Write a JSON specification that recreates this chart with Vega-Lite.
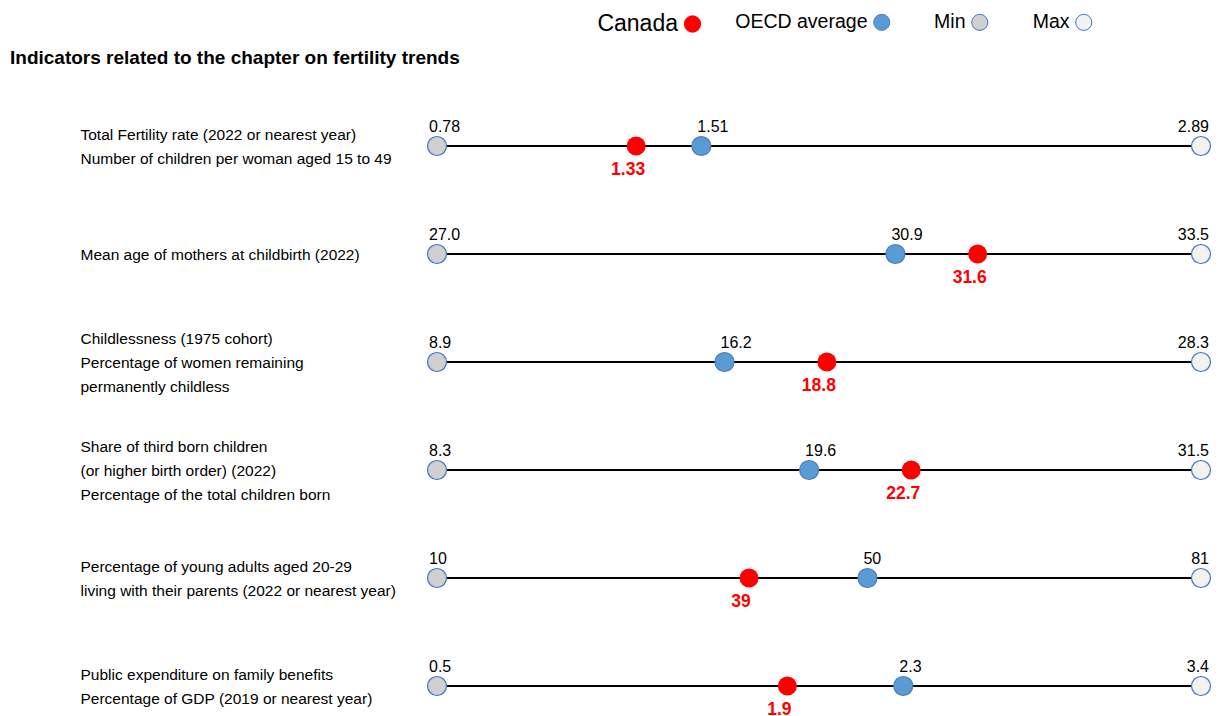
{
  "$schema": "https://vega.github.io/schema/vega-lite/v6.json",
  "padding": {"left": 10, "top": 12, "right": 4, "bottom": 0},
  "background": "white",
  "title": {
    "text": "Indicators related to the chapter on fertility trends",
    "anchor": "start",
    "frame": "bounds",
    "dx": -70,
    "offset": -55,
    "font": "Liberation Sans",
    "fontSize": 19,
    "fontWeight": "bold",
    "color": "black"
  },
  "data": {
    "values": [
      {"name": "Total Fertility rate (2022 or nearest year)|Number of children per woman aged 15 to 49", "series": "Min", "value": 0.78, "label": "0.78"},
      {"name": "Total Fertility rate (2022 or nearest year)|Number of children per woman aged 15 to 49", "series": "Max", "value": 2.89, "label": "2.89"},
      {"name": "Total Fertility rate (2022 or nearest year)|Number of children per woman aged 15 to 49", "series": "OECD average", "value": 1.51, "label": "1.51"},
      {"name": "Total Fertility rate (2022 or nearest year)|Number of children per woman aged 15 to 49", "series": "Canada", "value": 1.33, "label": "1.33"},
      {"name": "Mean age of mothers at childbirth (2022)", "series": "Min", "value": 27.0, "label": "27.0"},
      {"name": "Mean age of mothers at childbirth (2022)", "series": "Max", "value": 33.5, "label": "33.5"},
      {"name": "Mean age of mothers at childbirth (2022)", "series": "OECD average", "value": 30.9, "label": "30.9"},
      {"name": "Mean age of mothers at childbirth (2022)", "series": "Canada", "value": 31.6, "label": "31.6"},
      {"name": "Childlessness (1975 cohort)|Percentage of women remaining|permanently childless", "series": "Min", "value": 8.9, "label": "8.9"},
      {"name": "Childlessness (1975 cohort)|Percentage of women remaining|permanently childless", "series": "Max", "value": 28.3, "label": "28.3"},
      {"name": "Childlessness (1975 cohort)|Percentage of women remaining|permanently childless", "series": "OECD average", "value": 16.2, "label": "16.2"},
      {"name": "Childlessness (1975 cohort)|Percentage of women remaining|permanently childless", "series": "Canada", "value": 18.8, "label": "18.8"},
      {"name": "Share of third born children|(or higher birth order) (2022)|Percentage of the total children born", "series": "Min", "value": 8.3, "label": "8.3"},
      {"name": "Share of third born children|(or higher birth order) (2022)|Percentage of the total children born", "series": "Max", "value": 31.5, "label": "31.5"},
      {"name": "Share of third born children|(or higher birth order) (2022)|Percentage of the total children born", "series": "OECD average", "value": 19.6, "label": "19.6"},
      {"name": "Share of third born children|(or higher birth order) (2022)|Percentage of the total children born", "series": "Canada", "value": 22.7, "label": "22.7"},
      {"name": "Percentage of young adults aged 20-29|living with their parents (2022 or nearest year)", "series": "Min", "value": 10, "label": "10"},
      {"name": "Percentage of young adults aged 20-29|living with their parents (2022 or nearest year)", "series": "Max", "value": 81, "label": "81"},
      {"name": "Percentage of young adults aged 20-29|living with their parents (2022 or nearest year)", "series": "OECD average", "value": 50, "label": "50"},
      {"name": "Percentage of young adults aged 20-29|living with their parents (2022 or nearest year)", "series": "Canada", "value": 39, "label": "39"},
      {"name": "Public expenditure on family benefits|Percentage of GDP (2019 or nearest year)", "series": "Min", "value": 0.5, "label": "0.5"},
      {"name": "Public expenditure on family benefits|Percentage of GDP (2019 or nearest year)", "series": "Max", "value": 3.4, "label": "3.4"},
      {"name": "Public expenditure on family benefits|Percentage of GDP (2019 or nearest year)", "series": "OECD average", "value": 2.27, "label": "2.3"},
      {"name": "Public expenditure on family benefits|Percentage of GDP (2019 or nearest year)", "series": "Canada", "value": 1.83, "label": "1.9"}
    ]
  },
  "facet": {
    "row": {
      "field": "name",
      "type": "nominal",
      "header": null,
      "sort": [
        "Total Fertility rate (2022 or nearest year)|Number of children per woman aged 15 to 49",
        "Mean age of mothers at childbirth (2022)",
        "Childlessness (1975 cohort)|Percentage of women remaining|permanently childless",
        "Share of third born children|(or higher birth order) (2022)|Percentage of the total children born",
        "Percentage of young adults aged 20-29|living with their parents (2022 or nearest year)",
        "Public expenditure on family benefits|Percentage of GDP (2019 or nearest year)"
      ]
    }
  },
  "spacing": 18,
  "resolve": {"scale": {"x": "independent", "y": "independent"}},
  "spec": {
    "width": 764,
    "height": 90,
    "encoding": {
      "x": {"field": "value", "type": "quantitative", "scale": {"zero": false, "nice": false}, "axis": null},
      "y": {
        "field": "name",
        "type": "nominal",
        "title": null,
        "axis": {
          "domain": false,
          "ticks": false,
          "grid": false,
          "labelAlign": "left",
          "labelBaseline": "middle",
          "labelPadding": 357,
          "labelLimit": 400,
          "labelFont": "Liberation Sans",
          "labelFontSize": 15.5,
          "labelLineHeight": 24,
          "labelColor": "black",
          "labelOffset": {
            "condition": [
              {"test": "length(split(datum.label, '|')) == 3", "value": -24},
              {"test": "length(split(datum.label, '|')) == 2", "value": -12}
            ],
            "value": 0
          },
          "labelExpr": "split(datum.label, '|')"
        }
      }
    },
    "layer": [
      {"mark": {"type": "line", "color": "black", "strokeWidth": 1.8}},
      {
        "transform": [{"filter": "datum.series !== 'Canada'"}],
        "mark": {"type": "circle", "size": 360, "opacity": 1, "strokeWidth": 1.2},
        "encoding": {
          "fill": {
            "field": "series",
            "type": "nominal",
            "scale": {"domain": ["OECD average", "Min", "Max"], "range": ["#5B9BD5", "#D0D0D0", "#F2F2F2"]},
            "legend": {
              "title": null,
              "orient": "none",
              "direction": "horizontal",
              "legendX": 435,
              "legendY": -88.5,
              "symbolType": "circle",
              "symbolSize": 260,
              "symbolStrokeWidth": 1,
              "symbolStrokeColor": "#8C8C8C",
              "labelFont": "Liberation Sans",
              "labelFontSize": 19.5,
              "labelColor": "black",
              "labelAlign": "right",
              "labelOffset": -24,
              "columnPadding": 42
            }
          },
          "stroke": {
            "field": "series",
            "type": "nominal",
            "scale": {"domain": ["OECD average", "Min", "Max"], "range": ["#4A7EBB", "#4472C4", "#4472C4"]},
            "legend": null
          }
        }
      },
      {
        "transform": [{"filter": "datum.series === 'Canada'"}],
        "mark": {"type": "circle", "size": 360, "opacity": 1, "filled": true},
        "encoding": {
          "color": {
            "field": "series",
            "type": "nominal",
            "scale": {"domain": ["Canada"], "range": ["#FF0000"]},
            "legend": {
              "title": null,
              "orient": "none",
              "direction": "horizontal",
              "legendX": 244,
              "legendY": -88.5,
              "symbolType": "circle",
              "symbolSize": 300,
              "labelFont": "Liberation Sans",
              "labelFontSize": 23,
              "labelColor": "black",
              "labelAlign": "right",
              "labelOffset": -26
            }
          }
        }
      },
      {
        "transform": [{"filter": "datum.series === 'Min'"}],
        "mark": {"type": "text", "dy": -19, "dx": -8, "baseline": "middle", "align": "left", "font": "Liberation Sans", "fontSize": 16, "color": "black"},
        "encoding": {"text": {"field": "label"}}
      },
      {
        "transform": [{"filter": "datum.series === 'OECD average'"}],
        "mark": {"type": "text", "dy": -19, "dx": -4, "baseline": "middle", "align": "left", "font": "Liberation Sans", "fontSize": 16, "color": "black"},
        "encoding": {"text": {"field": "label"}}
      },
      {
        "transform": [{"filter": "datum.series === 'Max'"}],
        "mark": {"type": "text", "dy": -19, "dx": 8, "baseline": "middle", "align": "right", "font": "Liberation Sans", "fontSize": 16, "color": "black"},
        "encoding": {"text": {"field": "label"}}
      },
      {
        "transform": [{"filter": "datum.series === 'Canada'"}],
        "mark": {"type": "text", "dy": 24, "dx": -8, "baseline": "middle", "align": "center", "font": "Liberation Sans", "fontSize": 17.5, "fontWeight": "bold", "color": "#FF0000"},
        "encoding": {"text": {"field": "label"}}
      }
    ]
  },
  "config": {"view": {"stroke": null}}
}
